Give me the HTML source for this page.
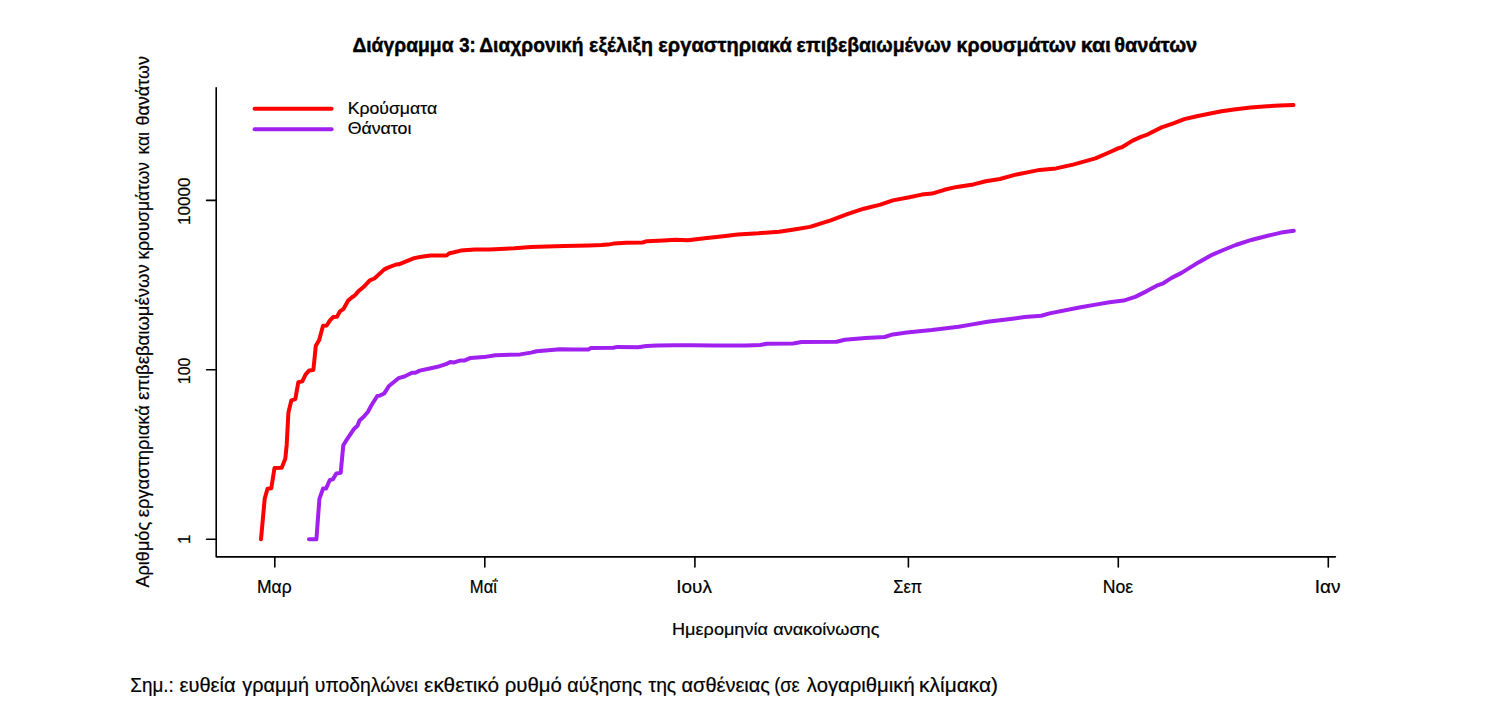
<!DOCTYPE html>
<html><head><meta charset="utf-8"><title>Διάγραμμα 3</title>
<style>
html,body{margin:0;padding:0;background:#fff;width:1498px;height:708px;overflow:hidden}
svg{display:block}
text{font-family:'Liberation Sans', sans-serif;fill:#000}
</style></head><body>
<svg width="1498" height="708" viewBox="0 0 1498 708" >
<rect width="1498" height="708" fill="#fff"/>
<g stroke="#000" stroke-width="1.6" fill="none" stroke-linecap="round" stroke-linejoin="round">
<path d="M216.2 87.8V556.85H1335.4"/>
<path d="M206.6 539.3H216.2M206.6 369.8H216.2M206.6 200.4H216.2"/>
<path d="M274.8 556.85V567M484.8 556.85V567M694.9 556.85V567M908.4 556.85V567M1118.3 556.85V567M1328.3 556.85V567"/>
</g>
<g fill="none" stroke-width="4" stroke-linecap="round" stroke-linejoin="round">
<path d="M254.6 108.8H331.6" stroke="#f00"/>
<path d="M254.6 129.3H331.6" stroke="#a020f0"/>
<polyline stroke="#f00" points="261,539.3 264.7,498.8 267.5,488.8 271.3,488.3 274.5,468 281.7,467.7 285.3,458.8 286.7,444.7 288.4,412.6 291.4,400.3 295.3,399.2 298.3,382.3 302.3,381.4 305.7,374.4 309.2,370.4 313.4,369.9 315.8,345.8 319.2,340 323,325.8 326.7,325.5 330,320.4 333.3,317 337,316.7 340,311.3 343.6,308.8 348.1,300.6 351.8,297.5 354.5,295.7 358.1,291.6 364.4,286.2 369.8,280.3 374.4,278.5 384.3,269.4 387.9,267.6 396.1,264.5 398.8,264.3 414.1,258.1 421.4,256.8 430.4,255.6 440,255.4 446.5,255.5 449.5,253.2 453,252.5 460.7,250.6 474.8,249.5 489.7,249.4 514.5,248.2 531,247 564,246 588.8,245.4 601.3,245 608,244.6 613.7,243.6 626.1,242.7 642.6,242.5 646.8,241.2 663.3,240.4 675.8,239.8 688,240.2 704.6,238.3 721.1,236.4 737.7,234.4 758.4,233.3 779.1,231.7 795.6,229.2 810,226.9 830.7,220.3 847.3,214.1 863.8,208.7 880.4,204.6 892.8,200.4 909.3,197.3 921.8,194.6 932,193.6 944.4,189.8 956.8,186.9 973.4,184.4 985.8,181.3 999.9,179 1014.8,174.9 1027.2,172.4 1039.6,169.9 1056,168.4 1073,164.6 1095.4,158.4 1107.8,153 1118.6,148.1 1121.9,147.2 1132.6,140.6 1140.9,136.9 1145.9,135.2 1161.6,127.4 1174,123.2 1184.3,119.1 1196.7,116.2 1209.1,113.7 1221.5,111.2 1234,109.4 1250.5,107.5 1267.1,106.3 1279.5,105.5 1293.5,105"/>
<polyline stroke="#a020f0" points="309,539.3 316.4,539.3 319.4,498.9 323.1,488.5 326.1,488.5 329.8,480 332.8,479.4 336.4,473.4 340.7,472.8 343.3,445.3 345.8,441.2 350.8,433.7 354.2,428.7 357.5,425.7 359.5,420.5 363.7,416.8 368,411.7 371.4,405.3 377.3,396 379.8,395.6 384.1,393.5 386.2,390.5 388.7,386.3 398.5,378.2 404.4,376.5 412,372.7 415.4,372.7 419.7,370.6 429.8,368.5 437.5,366.8 445.9,364.2 450.2,362.1 454.2,362.4 460.6,360.4 464.8,360.4 470.6,357.9 483.8,357.1 495.4,355.2 520.2,354.4 531,352.6 536.8,351.3 560,349.3 576,349.5 588.4,349.5 590.9,348.1 613.3,347.7 617.4,346.9 638.1,347.3 646.4,346.1 657.1,345.4 675.3,345.2 691.9,345.3 714.6,345.6 746,345.5 760.1,345 766.7,343.8 793.2,343.4 801.5,342.1 836.6,341.8 844.8,339.7 865.5,337.9 884.6,337 892.8,334.4 906.9,332.5 919.3,331.2 931.8,330 958.6,326.8 971,324.6 987.5,321.7 1012.4,318.8 1024.8,317.1 1041.3,315.7 1049.6,313.4 1080.6,307.3 1097.1,304.4 1109.5,302.3 1123.6,300.6 1135.2,296.9 1146.8,291.1 1156.7,285.7 1162.5,283.7 1171.6,277.9 1181.5,272.9 1198.4,262.4 1210.8,255.4 1223.3,250 1235.7,245 1252.2,239.7 1268.8,235.5 1281.2,232.6 1293.8,230.7"/>
</g>
<g font-size="21" font-weight="bold" stroke="#000" stroke-width="0.45"><text x="352.38" y="52" lengthAdjust="spacingAndGlyphs" textLength="101.15">Διάγραμμα</text><text x="459.30" y="52" lengthAdjust="spacingAndGlyphs" textLength="16.49">3:</text><text x="479.28" y="52" lengthAdjust="spacingAndGlyphs" textLength="104.26">Διαχρονική</text><text x="589.07" y="52" lengthAdjust="spacingAndGlyphs" textLength="64.00">εξέλιξη</text><text x="658.34" y="52" lengthAdjust="spacingAndGlyphs" textLength="133.50">εργαστηριακά</text><text x="796.58" y="52" lengthAdjust="spacingAndGlyphs" textLength="154.79">επιβεβαιωμένων</text><text x="956.57" y="52" lengthAdjust="spacingAndGlyphs" textLength="119.66">κρουσμάτων</text><text x="1080.79" y="52" lengthAdjust="spacingAndGlyphs" textLength="30.19">και</text><text x="1114.25" y="52" lengthAdjust="spacingAndGlyphs" textLength="82.97">θανάτων</text></g>
<g font-size="19.6" stroke="#000" stroke-width="0.2"><text x="130.34" y="691.5" lengthAdjust="spacingAndGlyphs" textLength="43.51">Σημ.:</text><text x="179.58" y="691.5" lengthAdjust="spacingAndGlyphs" textLength="56.01">ευθεία</text><text x="242.30" y="691.5" lengthAdjust="spacingAndGlyphs" textLength="66.66">γραμμή</text><text x="314.81" y="691.5" lengthAdjust="spacingAndGlyphs" textLength="103.23">υποδηλώνει</text><text x="424.14" y="691.5" lengthAdjust="spacingAndGlyphs" textLength="74.98">εκθετικό</text><text x="504.76" y="691.5" lengthAdjust="spacingAndGlyphs" textLength="57.13">ρυθμό</text><text x="567.39" y="691.5" lengthAdjust="spacingAndGlyphs" textLength="74.66">αύξησης</text><text x="648.50" y="691.5" lengthAdjust="spacingAndGlyphs" textLength="27.69">της</text><text x="681.48" y="691.5" lengthAdjust="spacingAndGlyphs" textLength="88.56">ασθένειας</text><text x="774.17" y="691.5" lengthAdjust="spacingAndGlyphs" textLength="25.47">(σε</text><text x="806.80" y="691.5" lengthAdjust="spacingAndGlyphs" textLength="107.91">λογαριθμική</text><text x="919.13" y="691.5" lengthAdjust="spacingAndGlyphs" textLength="78.81">κλίμακα)</text></g>
<g font-size="17.2" stroke="#000" stroke-width="0.2"><text x="672.05" y="635.1" lengthAdjust="spacingAndGlyphs" textLength="95.88">Ημερομηνία</text><text x="773.35" y="635.1" lengthAdjust="spacingAndGlyphs" textLength="106.09">ανακοίνωσης</text></g>
<g font-size="17" stroke="#000" stroke-width="0.2"><text x="347.66" y="114.2" lengthAdjust="spacingAndGlyphs" textLength="89.53">Κρούσματα</text></g>
<g font-size="17" stroke="#000" stroke-width="0.2"><text x="347.66" y="134.1" lengthAdjust="spacingAndGlyphs" textLength="63.79">Θάνατοι</text></g>
<g font-size="17.5" stroke="#000" stroke-width="0.2"><text x="256.90" y="592.9" lengthAdjust="spacingAndGlyphs" textLength="34.76">Μαρ</text><text x="469.85" y="592.9" lengthAdjust="spacingAndGlyphs" textLength="27.11">Μαΐ</text><text x="676.34" y="592.9" lengthAdjust="spacingAndGlyphs" textLength="35.58">Ιουλ</text><text x="893.36" y="592.9" lengthAdjust="spacingAndGlyphs" textLength="28.80">Σεπ</text><text x="1102.79" y="592.9" lengthAdjust="spacingAndGlyphs" textLength="30.40">Νοε</text><text x="1314.83" y="592.9" lengthAdjust="spacingAndGlyphs" textLength="25.77">Ιαν</text></g>
<g transform="translate(190,0) rotate(-90)" font-size="17" stroke="#000" stroke-width="0.2"><text x="-544.00" lengthAdjust="spacingAndGlyphs" textLength="9.47">1</text><text x="-384.24" lengthAdjust="spacingAndGlyphs" textLength="26.69">100</text><text x="-225.00" lengthAdjust="spacingAndGlyphs" textLength="47.38">10000</text></g>
<g transform="translate(148.6,0) rotate(-90)" font-size="18" stroke="#000" stroke-width="0.2"><text x="-587.50" lengthAdjust="spacingAndGlyphs" textLength="65.61">Αριθμός</text><text x="-517.32" lengthAdjust="spacingAndGlyphs" textLength="112.27">εργαστηριακά</text><text x="-400.03" lengthAdjust="spacingAndGlyphs" textLength="135.72">επιβεβαιωμένων</text><text x="-259.57" lengthAdjust="spacingAndGlyphs" textLength="97.46">κρουσμάτων</text><text x="-154.47" lengthAdjust="spacingAndGlyphs" textLength="22.45">και</text><text x="-125.60" lengthAdjust="spacingAndGlyphs" textLength="69.53">θανάτων</text></g>
</svg>
</body></html>
